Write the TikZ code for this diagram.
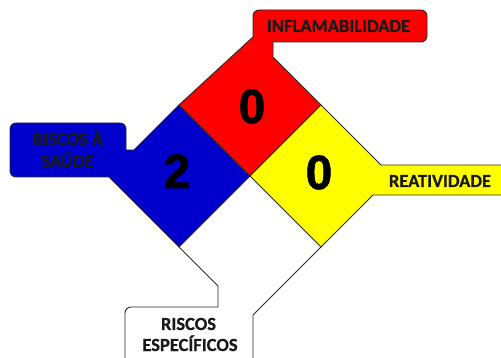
\documentclass[tikz,border=0pt]{standalone}
\usepackage{fontspec}
\setmainfont{Carlito}[BoldFeatures={FakeBold=0.6}]
\newfontfamily\digitfont{Liberation Sans}[BoldFeatures={FakeBold=1.3}]
\definecolor{hzred}{RGB}{255,0,0}
\definecolor{hzblue}{RGB}{0,0,205}
\definecolor{hzyellow}{RGB}{255,255,0}
\definecolor{edge}{RGB}{40,40,40}
\tikzset{
  panel/.style={draw=edge, line width=0.9pt, line join=miter},
  rlabel/.style={inner sep=0pt, anchor=base, font=\fontsize{18.5}{20}\selectfont\bfseries, text=black!90},
  digit/.style={inner sep=0pt, anchor=base, font=\digitfont\fontsize{48}{48}\selectfont\bfseries, text=black},
}
\begin{document}
\begin{tikzpicture}[x=1pt,y=-1pt]
\useasboundingbox (0,0) rectangle (501,358);
\clip (0,0) rectangle (501,358);
\fill[white] (0,0) rectangle (501,358);

% ---- blue (health) ----
\fill[hzblue, rounded corners=6pt] (10,123) rectangle (126,177);
\fill[hzblue] (120,150) -- (134,150) -- (179,105) -- (250,176) -- (179,247) -- (109,177) -- (100,177) -- (100,140) -- cycle;
\draw[panel, rounded corners=6pt] (126,150) -- (126,123) -- (10,123) -- (10,177) -- (109.5,177);
\draw[panel] (109,177) -- (179,247) -- (250,176) -- (179,105) -- (134,150) -- (125.55,150);

% ---- red (flammability) ----
\fill[hzred, rounded corners=6pt] (253,10) rectangle (427,42);
\fill[hzred] (253,30) -- (253,37) -- (179,105) -- (250,176) -- (321,105) -- (273,57) -- (273,38) -- cycle;
\draw[panel, rounded corners=6pt] (253,37.5) -- (253,10) -- (427,10) -- (427,42) -- (272.55,42);
\draw[panel] (273,42) -- (273,57) -- (321,105) -- (250,176) -- (179,105) -- (253.3,36.7);

% ---- yellow (reactivity) ----
\fill[hzyellow] (321,105) -- (381,165) -- (510,165) -- (510,195) -- (373,195) -- (321,247) -- (250,176) -- cycle;
\draw[panel] (510,165) -- (381,165) -- (321,105) -- (250,176) -- (321,247) -- (373,195) -- (510,195);

% ---- white (specific) ----
\draw[panel] (179,247) -- (218,286) -- (218,307);
\draw[panel, rounded corners=6pt] (218.45,307) -- (125,307) -- (125,370);
\draw[panel] (321,247) -- (253,315) -- (253,370);

% ---- texts ----
\node[rlabel] (tflam) at (338.5,32) {INFLAMABILIDADE};
\node[rlabel] (treac) at (440,187) {REATIVIDADE};
\node[rlabel] (thealth1) at (68,145) {RISCOS À};
\node[rlabel] (thealth2) at (67.5,167) {SAÚDE};
\node[rlabel] (tspec1) at (188.5,330) {RISCOS};
\node[rlabel] (tspec2) at (190,351) {ESPECÍFICOS};

\node[digit] (dflam) at (252,123) {0};
\node[digit] (dhealth) at (177,188) {2};
\node[digit] (dreac) at (319,189) {0};
\end{tikzpicture}
\end{document}
